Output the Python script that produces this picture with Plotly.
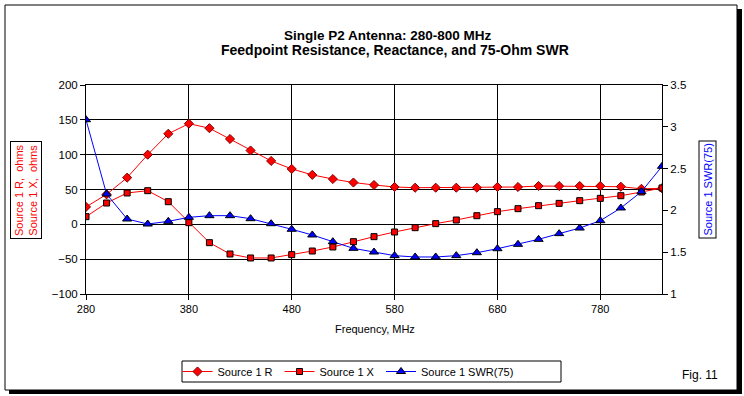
import plotly.graph_objects as go

freq = [280, 300, 320, 340, 360, 380, 400, 420, 440, 460, 480, 500, 520, 540,
        560, 580, 600, 620, 640, 660, 680, 700, 720, 740, 760, 780, 800, 820, 840]
r_ohms = [25, 43, 67, 100, 130, 144.5, 138, 122.5, 106, 91, 79.5, 71, 65, 60,
          56.5, 53.6, 52.6, 52.6, 52.6, 52.6, 53.6, 53.6, 55, 55, 55, 55, 54, 51, 51.7]
x_ohms = [11, 30.6, 45, 48.3, 32.5, 2.4, -26.3, -42.6, -48.3, -48.3, -43.5, -38.3, -32.5, -24.9,
          -17.7, -11, -4.8, 1, 6.2, 12.4, 18.2, 22.5, 26.8, 30.1, 34, 37.3, 41.1, 46.4, 52.2]
swr = [3.085, 2.196, 1.897, 1.837, 1.869, 1.917, 1.937, 1.937, 1.901, 1.841, 1.774, 1.706, 1.626, 1.546,
       1.502, 1.459, 1.443, 1.443, 1.459, 1.494, 1.542, 1.594, 1.654, 1.722, 1.789, 1.877, 2.029, 2.224, 2.527]
x_ticks = [280, 380, 480, 580, 680, 780]
y_ticks = [-100, -50, 0, 50, 100, 150, 200]
y2_ticks = [1, 1.5, 2, 2.5, 3, 3.5]
y2_labels = ["1", "1.5", "2", "2.5", "3", "3.5"]
title_lines = ["Single P2 Antenna: 280-800 MHz",
               "Feedpoint Resistance, Reactance, and 75-Ohm SWR"]

W, H = 744, 396
L, R, T, B = 86, 662, 85, 294  # plot area in pixels


def px(x):
    return (x - L) / (R - L)


def py(y):
    return (B - y) / (B - T)


FONT = "Liberation Sans, Arial, sans-serif"

fig = go.Figure()
fig.add_trace(go.Scatter(
    x=freq, y=r_ohms, name="Source 1 R", mode="lines+markers", legend="legend",
    line=dict(color="#FF0000", width=1),
    marker=dict(symbol="diamond", size=7, color="#FF0000", line=dict(color="#800000", width=1)),
))
fig.add_trace(go.Scatter(
    x=freq, y=x_ohms, name="Source 1 X", mode="lines+markers", legend="legend2",
    line=dict(color="#FF0000", width=1),
    marker=dict(symbol="square", size=6, color="#FF0000", line=dict(color="#000000", width=1)),
))
fig.add_trace(go.Scatter(
    x=freq, y=swr, name="Source 1 SWR(75)", mode="lines+markers", yaxis="y2", legend="legend3",
    line=dict(color="#0000FF", width=1),
    marker=dict(symbol="triangle-up", size=8, color="#0000FF", line=dict(color="#000000", width=1)),
))

frame = dict(type="line", xref="paper", yref="paper", line=dict(color="black"))
shapes = [
    dict(type="rect", xref="paper", yref="paper", x0=px(5), x1=px(737), y0=py(5), y1=py(390),
         line=dict(color="black", width=1)),
    dict(frame, x0=px(739.5), x1=px(739.5), y0=py(9), y1=py(394), line=dict(color="black", width=5)),
    dict(frame, x0=px(9), x1=px(742), y0=py(392), y1=py(392), line=dict(color="black", width=4)),
    # legend box
    dict(type="rect", xref="paper", yref="paper", x0=px(182), x1=px(561), y0=py(361), y1=py(382),
         line=dict(color="black", width=1)),
]

ann = dict(xref="paper", yref="paper", showarrow=False, xanchor="center", yanchor="middle")
annotations = [
    dict(ann, text="<b>%s</b>" % title_lines[0], x=px(388), y=py(35.5),
         font=dict(family=FONT, size=13.5, color="black")),
    dict(ann, text="<b>%s</b>" % title_lines[1], x=px(394.5), y=py(50.5),
         font=dict(family=FONT, size=14, color="black")),
    dict(ann, text="Source 1 R,  ohms<br>Source 1 X,  ohms",
         x=px(26), y=py(190), textangle=-90,
         font=dict(family=FONT, size=11, color="#FF0000"),
         bordercolor="black", borderwidth=1, borderpad=2, bgcolor="white"),
    dict(ann, text="Source 1 SWR(75)",
         x=px(707.5), y=py(190), textangle=-90,
         font=dict(family=FONT, size=11, color="#0000FF"),
         bordercolor="black", borderwidth=1, borderpad=2, bgcolor="white"),
    dict(ann, text="Frequency, MHz", x=px(375), y=py(329),
         font=dict(family=FONT, size=11, color="black")),
    dict(ann, text="Fig. 11", x=px(700), y=py(375),
         font=dict(family=FONT, size=12, color="black")),
]


def leg(xpix):
    return dict(orientation="h", x=px(xpix), xanchor="left", y=py(371.5), yanchor="middle",
                borderwidth=0, bgcolor="rgba(0,0,0,0)", itemwidth=30,
                font=dict(family=FONT, size=11, color="black"))


fig.update_layout(
    width=W, height=H,
    margin=dict(l=L, r=W - R, t=T, b=H - B, pad=0, autoexpand=False),
    paper_bgcolor="white", plot_bgcolor="white",
    font=dict(family=FONT, size=11, color="black"),
    showlegend=True,
    legend=leg(177.5), legend2=leg(279.5), legend3=leg(381),
    xaxis=dict(range=[280, 840], tickvals=x_ticks, showgrid=True, gridcolor="black", gridwidth=1,
               showline=True, linecolor="black", linewidth=1, mirror=True,
               ticks="outside", ticklen=5, tickcolor="black", zeroline=False,
               tickfont=dict(family=FONT, size=11, color="black")),
    yaxis=dict(range=[-100, 200], tickvals=y_ticks, showgrid=True, gridcolor="black", gridwidth=1,
               showline=True, linecolor="black", linewidth=1, mirror=True,
               ticks="outside", ticklen=5, tickcolor="black", zeroline=False,
               tickfont=dict(family=FONT, size=11.5, color="black")),
    yaxis2=dict(range=[1, 3.5], tickvals=y2_ticks, ticktext=y2_labels, overlaying="y", side="right",
                showgrid=False, showline=True, linecolor="black", linewidth=1,
                ticks="outside", ticklen=5, tickcolor="black", zeroline=False,
                tickfont=dict(family=FONT, size=11.5, color="black")),
    shapes=shapes,
    annotations=annotations,
)

fig.write_html("out.html", config={"displayModeBar": False},
               post_script="document.body.style.margin='0';")
